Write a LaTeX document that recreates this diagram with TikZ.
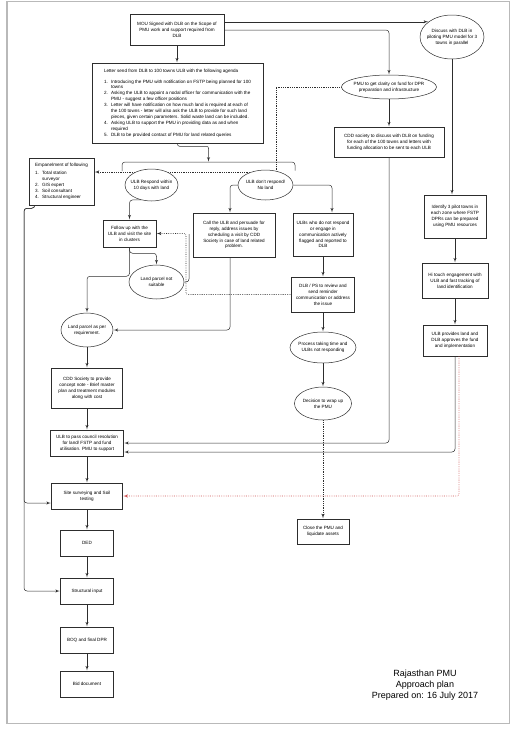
\documentclass[tikz,border=0pt]{standalone}
\usepackage{fontspec}
\setmainfont{Liberation Sans}
\usetikzlibrary{shapes,arrows,positioning,backgrounds}
\definecolor{edge}{RGB}{45,45,45}
\definecolor{redline}{RGB}{205,80,80}
\tikzset{
	line/.style={draw=edge, line width=0.5pt, -latex'},
	plain/.style={draw=edge, line width=0.5pt},
	dots/.style={draw=edge, line width=0.6pt, dash pattern=on 0.6pt off 1.2pt, -latex'},
	reddots/.style={draw=redline, line width=0.6pt, dash pattern=on 0.6pt off 1.2pt, -latex'},
	txt/.style={font={\fontsize{4.6}{5.9}\selectfont}}
}
\tikzstyle{base} =
	[
		draw=edge,
		line width=0.5pt,
		fill=white,
		align=center,
		txt,
		inner sep=1pt
	]
\tikzstyle{block} =
	[
		base,
		rectangle
	]
\tikzstyle{oval} =
	[
		base,
		ellipse,
		inner xsep=-6pt,
		inner ysep=-3pt
	]
\newcommand{\num}[1]{\makebox[7pt][l]{#1}}
\newcommand{\hang}{\hspace*{7pt}}

\begin{document}
\begin{tikzpicture}[x=1pt, y=-1pt, on grid, shorten >=0.5pt]
        \useasboundingbox (0,0) rectangle (516,729);
        \draw[gray!55, line width=1.2pt] (7,1.5) rectangle (509.5,723.5);

        \node[block, minimum width=94pt, minimum height=31pt] (mou) at (177,30) {MOU Signed with DLB on the Scope of\\PMU work and support required from\\DLB};
        \node[block, align=left, minimum width=171pt, minimum height=80pt] (letter) at (177.5,103) {
            Letter send from DLB to 100 towns ULB with the following agenda\\[5pt]
            \num{1.}Introducing the PMU with notification on FSTP being planned for 100\\
            \hang towns\\
            \num{2.}Asking the ULB to appoint a nodal officer for communication with the\\
            \hang PMU - suggest a few officer positions\\
            \num{3.}Letter will have notification on how much land is required at each of\\
            \hang the 100 towns - letter will also ask the ULB to provide for such land\\
            \hang pieces, given certain parameters. Solid waste land can be included.\\
            \num{4.}Asking ULB to support the PMU in providing data as and when\\
            \hang required\\
            \num{5.}DLB to be provided contact of PMU for land related queries
        };
        \node[oval, minimum width=64pt, minimum height=44pt] (discuss) at (452,37) {Discuss with DLB in\\piloting PMU model for 3\\towns in parallel};
        \node[oval, minimum width=95pt, minimum height=24pt] (pmu) at (389,87) {PMU to get clarity on fund for DPR\\preparation and infrastructure};
        \node[block, minimum width=110pt, minimum height=30pt] (cddfund) [below=55pt of pmu] {CDD society to discuss with DLB on funding\\for each of the 100 towns and letters with\\funding allocation to be sent to each ULB};

        \node[block, align=left, minimum width=65pt, minimum height=47pt] (emp) at (61.5,181.5) {
            Empanelment of following\\[2pt]
            \num{1.}Total station\\
            \hang surveyor\\
            \num{2.}GIS expert\\
            \num{3.}Soil consultant\\
            \num{4.}Structural engineer
        };
        \node[oval, minimum width=53pt, minimum height=32pt] (respond) at (151.5,185) {ULB Respond within\\10 days with land};
        \node[oval, minimum width=55pt, minimum height=30pt] (dontresp) at (265.5,185) {ULB don't respond/\\No land};

        \node[block, minimum width=53pt, minimum height=27pt] (follow) at (129.5,233.5) {Follow up with the\\ULB and visit the site\\in clusters};
        \node[block, minimum width=82pt, minimum height=44pt] (call) at (234,235) {Call the ULB and persuade for\\reply, address issues by\\scheduling a visit by CDD\\Society in case of land related\\problem.};
        \node[oval, minimum width=55pt, minimum height=34pt] (notsuit) at (156.5,282) {Land parcel not\\suitable};

        \node[block, minimum width=60pt, minimum height=43pt] (ulbs) at (323,234.5) {ULBs who do not respond\\or engage in\\communication actively\\flagged and reported to\\DLB};
        \node[block, minimum width=63pt, minimum height=35pt] (dlbps) [below=60pt of ulbs] {DLB / PS to review and\\send reminder\\communication or address\\the issue};
        \node[oval, minimum width=66pt, minimum height=31pt] (process) [below=53pt of dlbps] {Process taking time and\\ULBs not responding};
        \node[oval, minimum width=57pt, minimum height=33pt] (decision) [below=56pt of process] {Decision to wrap up\\the PMU};
        \node[block, minimum width=52pt, minimum height=25pt] (close) [below=128pt of decision] {Close the PMU and\\liquidate assets};

        \node[block, minimum width=62pt, minimum height=43pt] (identify) at (455,216.5) {Identify 3 pilot towns in\\each zone where FSTP\\DPRs can be prepared\\using PMU resources};
        \node[block, minimum width=66pt, minimum height=35pt] (hitouch) [below=64pt of identify] {Hi touch engagement with\\ULB and fast tracking of\\land identification};
        \node[block, minimum width=64pt, minimum height=31pt] (ulbprov) [below=60pt of hitouch] {ULB provides land and\\DLB approves the fund\\and implementation};

        \node[oval, minimum width=52pt, minimum height=34pt] (asper) at (87,330) {Land parcel as per\\requirement.};
        \node[block, minimum width=71pt, minimum height=40pt] (cddnote) [below=58pt of asper] {CDD Society to provide\\concept note - Brief master\\plan and treatment modules\\along with cost};
        \node[block, minimum width=73pt, minimum height=26pt] (council) [below=55pt of cddnote] {ULB to pass council resolution\\for land/ FSTP and fund\\utilisation. PMU to support};
        \node[block, minimum width=71pt, minimum height=26pt] (site) [below=53pt of council] {Site surveying and Soil\\testing};
        \node[block, minimum width=53pt, minimum height=26pt] (ded) [below=47pt of site] {DED};
        \node[block, minimum width=53pt, minimum height=26pt] (struct) [below=48pt of ded] {Structural input};
        \node[block, minimum width=53pt, minimum height=26pt] (boq) [below=49pt of struct] {BOQ and final DPR};
        \node[block, minimum width=53pt, minimum height=26pt] (bid) [below=44pt of boq] {Bid document};

        \node[font={\fontsize{9}{11.3}\selectfont}, align=center] (title) at (425,685) {Rajasthan PMU\\Approach plan\\Prepared on: 16 July 2017};

        \coordinate (fork) at (208.5,162);
        \coordinate (forkL) at (122,171);
        \coordinate (forkR) at (295,171);
        \coordinate (dotbend) at (276,172);
        \coordinate (dotup) at (186,260);
        \coordinate (loop) at (189,233.5);
        \coordinate (rail) at (24,400);

        \begin{scope}[on background layer]
            \draw[dots] (pmu.west) -| (dotbend) -- (dotbend -| emp.east);
        \end{scope}

        \draw[line] (mou.south) -- (mou.south |- letter.north);
        \draw[line] (mou.east |- discuss.147) -- (discuss.147);
        \draw[line, rounded corners=3pt] (mou.east) -| (pmu.north);
        \draw[line] (pmu) -- (cddfund);
        \draw[line] (discuss.south) -- (discuss.south |- identify.north);
        \draw[line] (identify) -- (hitouch);
        \draw[line] (hitouch) -- (ulbprov);

        \draw[plain, rounded corners=3pt] (forkL) |- (fork) -| (forkR);
        \draw[line, rounded corners=2pt] (letter.south) -- ++(0,3) -| (fork);

        \draw[line, rounded corners=3pt] (respond.235) -| (follow.north);
        \draw[line, rounded corners=3pt] (dontresp.west) -| ([xshift=-4pt]call.north);
        \draw[line, rounded corners=3pt] (dontresp.east) -| ([xshift=9pt]ulbs.north);
        \draw[line, rounded corners=3pt] (follow.south) -- ++(0,6) -| (notsuit.north);
        \draw[line, rounded corners=3pt] (follow.south) -- ++(0,29) -| (asper.north);
        \draw[plain, rounded corners=3pt] (notsuit.east) -| (loop);
        \draw[dots, rounded corners=2pt] (dlbps.west) -| (dotup) |- (follow.east);
        \draw[line, rounded corners=3pt] ([xshift=-4pt]call.south) |- (asper.east);

        \draw[line] (ulbs) -- (dlbps);
        \draw[line] (dlbps) -- (process);
        \draw[line] (process) -- (decision);
        \draw[dots] (decision) -- (close);

        \draw[line] (asper) -- (cddnote);
        \draw[line] (cddnote) -- (council);
        \draw[line] (council) -- (site);
        \draw[line] (site) -- (ded);
        \draw[line] (ded) -- (struct);
        \draw[line] (struct) -- (boq);
        \draw[line] (boq) -- (bid);

        \draw[line, rounded corners=3pt] (cddfund.south) |- (council.east);
        \draw[line, rounded corners=3pt] (ulbprov.south) |- ([yshift=-9pt]council.east);
        \draw[reddots, rounded corners=2pt] ([xshift=4pt]ulbprov.south) |- (site.east);

        \draw[line, rounded corners=3pt] ([xshift=6pt]emp.south west) -- ++(0,3) -| (rail) |- ([yshift=-7pt]site.west);
        \draw[line, rounded corners=3pt] ([xshift=6pt]emp.south west) -- ++(0,3) -| (rail) |- (struct.west);
    \end{tikzpicture}
\end{document}
